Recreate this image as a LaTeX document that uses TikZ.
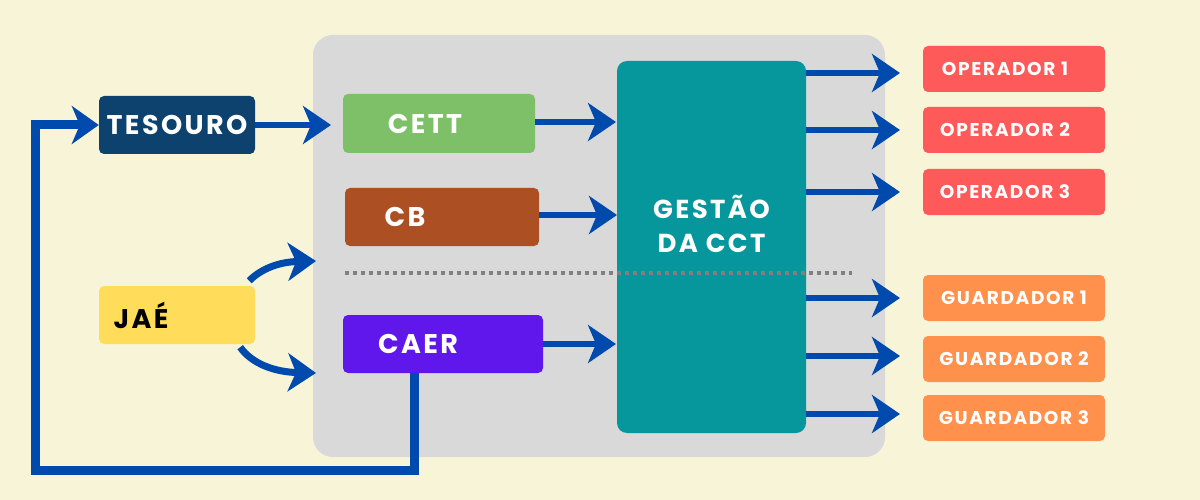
\documentclass[tikz,border=0pt]{standalone}
\usepackage{fontspec}
\setmainfont{Poppins}[LetterSpace=9]
\usetikzlibrary{arrows.meta}
\definecolor{bgc}{HTML}{F7F4D8}
\definecolor{panel}{HTML}{D9D9D9}
\definecolor{navy}{HTML}{0D426F}
\definecolor{cettc}{HTML}{7DC067}
\definecolor{cbc}{HTML}{AC4F22}
\definecolor{jaec}{HTML}{FFDD5A}
\definecolor{caerc}{HTML}{5F17EB}
\definecolor{teal}{HTML}{06979C}
\definecolor{opc}{HTML}{FF5A5A}
\definecolor{guc}{HTML}{FF914D}
\definecolor{arrc}{HTML}{004AAD}
\definecolor{dotc}{HTML}{808080}
\tikzset{
  box/.style={rounded corners=5pt, inner sep=0pt, font=\bfseries\fontsize{27}{30}\selectfont, text=white},
  small/.style={box, minimum width=182pt, minimum height=46pt, font=\bfseries\fontsize{18.5}{20}\selectfont},
  arr/.style={draw=arrc, line width=6pt, -{Stealth[length=28pt, width=38pt, inset=8pt]}},
}
\begin{document}
\begin{tikzpicture}[x=1pt,y=-1pt]
\fill[bgc] (0,0) rectangle (1200,500);
\useasboundingbox (0,0) rectangle (1200,500);
\fill[panel, rounded corners=20pt] (313,35) rectangle (885,457);
% boxes
\node[box, fill=navy, minimum width=156pt, minimum height=58pt] (tes) at (177,125) {TESOURO};
\node[box, fill=cettc, minimum width=192pt, minimum height=59pt] (cett) at (439,123.5) {CETT\hspace*{28pt}};
\node[box, fill=cbc, minimum width=194pt, minimum height=58pt] (cb) at (442,217) {CB\hspace*{74pt}};
\node[box, fill=jaec, text=black, minimum width=156pt, minimum height=58pt] (jae) at (177,315) {JAÉ\hspace*{72pt}};
\node[box, fill=caerc, minimum width=200pt, minimum height=58pt] (caer) at (443,344) {CAER\hspace*{50pt}};
\node[box, fill=teal, rounded corners=10pt, minimum width=189pt, minimum height=372pt, align=center, font=\bfseries\fontsize{26}{34}\selectfont] (gest) at (711.5,247) {GESTÃO\\DA CCT\\[12pt]~};
\draw[dotc, line width=4pt, dash pattern=on 4pt off 4pt] (345,273) -- (852,273);
% outputs
\node[small, fill=opc] (op1) at (1014,69) {OPERADOR 1\hspace*{18pt}};
\node[small, fill=opc] (op2) at (1014,130) {OPERADOR 2\hspace*{18pt}};
\node[small, fill=opc] (op3) at (1014,192) {OPERADOR 3\hspace*{18pt}};
\node[small, fill=guc] (gu1) at (1014,298) {GUARDADOR 1};
\node[small, fill=guc] (gu2) at (1014,359) {GUARDADOR 2};
\node[small, fill=guc] (gu3) at (1014,418) {GUARDADOR 3};
% arrow ends
\coordinate (t1) at (900,73);
\coordinate (t2) at (900,130);
\coordinate (t3) at (900,192);
\coordinate (t4) at (900,298);
\coordinate (t5) at (900,356);
\coordinate (t6) at (900,414);
\foreach \t in {t1,t2,t3,t4,t5,t6}
  \draw[arr] (gest.east |- \t) -- (\t);
\coordinate (ce) at (331,125);
\draw[arr] (tes.east |- ce) -- (ce);
\coordinate (g1) at (616,122);
\draw[arr] (cett.east |- g1) -- (g1);
\coordinate (g2) at (617,215);
\draw[arr] (cb.east |- g2) -- (g2);
\coordinate (g3) at (616,344);
\draw[arr] (caer.east |- g3) -- (g3);
% JAE curves
\coordinate (ju) at (316,261);
\coordinate (jl) at (316,373);
\draw[arr, line width=7pt] ([xshift=-6pt,yshift=5pt]jae.north east) .. controls (262,268) and (280,262) .. (ju);
\draw[arr, line width=7pt] ([xshift=-15pt,yshift=-3pt]jae.south east) .. controls (252,364) and (275,372) .. (jl);
% feedback loop
\coordinate (fb1) at (414,470);
\coordinate (fb2) at (35,470);
\coordinate (fb3) at (35,125);
\draw[draw=arrc, line width=9pt, line join=miter, -{Stealth[length=27pt, width=38pt, inset=8pt]}]
  ([xshift=-29pt]caer.south) -- (fb1) -- (fb2) -- (fb3) -- (tes.west);
\end{tikzpicture}
\end{document}
